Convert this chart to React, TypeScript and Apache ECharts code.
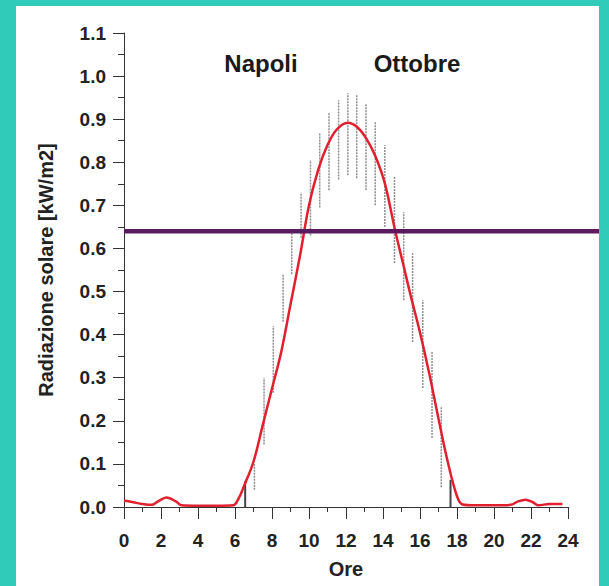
import React, { useEffect, useRef } from "react";
import * as echarts from "echarts";

// Fitted curve (red line): hour of day vs solar radiation [kW/m2]
const curveHours = [
  0, 0.5, 1, 1.5, 1.8, 2.3, 2.8, 3.1, 4, 5, 5.9, 6.2, 6.5, 7, 7.5, 8, 8.5, 9, 9.5, 10,
  10.5, 11, 11.5, 12.1, 12.6, 13.1, 13.6, 14.1, 14.65, 15.1, 15.5, 16.0, 16.5, 17.0, 17.5,
  18.0, 18.3, 19, 20, 20.9, 21.3, 21.7, 22.1, 22.4, 23, 23.7,
];
const curveValues = [
  0.015, 0.011, 0.007, 0.005, 0.012, 0.022, 0.013, 0.004, 0.003, 0.003, 0.004, 0.02, 0.05,
  0.105, 0.19, 0.275, 0.36, 0.47, 0.58, 0.7, 0.783, 0.84, 0.876, 0.892, 0.882, 0.855, 0.813,
  0.751, 0.643, 0.562, 0.49, 0.405, 0.31, 0.205, 0.105, 0.025, 0.006, 0.004, 0.004, 0.005,
  0.013, 0.017, 0.011, 0.004, 0.007, 0.007,
];

// Measured ranges (grey vertical bars)
const barHours = [
  6.55, 7.05, 7.57, 8.07, 8.6, 9.07, 9.57, 10.08, 10.58, 11.08, 11.6, 12.1, 12.58, 13.08,
  13.58, 14.1, 14.62, 15.12, 15.6, 16.15, 16.65, 17.15, 17.65,
];
const barLow = [
  0.0, 0.04, 0.145, 0.265, 0.43, 0.54, 0.625, 0.63, 0.695, 0.735, 0.76, 0.77, 0.763, 0.735,
  0.7, 0.65, 0.566, 0.48, 0.383, 0.276, 0.16, 0.046, 0.0,
];
const barHigh = [
  0.06, 0.1, 0.3, 0.42, 0.54, 0.64, 0.73, 0.805, 0.868, 0.916, 0.944, 0.96, 0.956, 0.937,
  0.893, 0.84, 0.766, 0.684, 0.589, 0.48, 0.36, 0.232, 0.063,
];

const thresholdValue = 0.64;

const xMin = 0;
const xMax = 24;
const xInterval = 2;
const yMin = 0;
const yMax = 1.1;
const yInterval = 0.1;

const titleLeft = "Napoli";
const titleRight = "Ottobre";
const xName = "Ore";
const yName = "Radiazione solare [kW/m2]";

const FONT = "'Liberation Sans', Arial, Helvetica, sans-serif";

export default function App() {
  const ref = useRef<HTMLDivElement>(null);

  useEffect(() => {
    document.body.style.margin = "0";
    const chart = echarts.init(ref.current as HTMLDivElement, null, { renderer: "svg" });
    const axisColor = "#333";
    const labelColor = "#222";

    chart.setOption({
      animation: false,
      grid: { left: 108, top: 27, width: 444, height: 474 },
      xAxis: {
        type: "value",
        min: xMin,
        max: xMax,
        interval: xInterval,
        name: xName,
        nameLocation: "middle",
        nameGap: 52,
        nameTextStyle: { fontFamily: FONT, fontWeight: "bold", fontSize: 20, color: labelColor },
        axisLine: { show: true, lineStyle: { color: axisColor, width: 1 } },
        axisTick: { show: true, length: 12, lineStyle: { color: axisColor, width: 1 } },
        minorTick: { show: true, splitNumber: 2, length: 5, lineStyle: { color: axisColor, width: 1 } },
        axisLabel: {
          fontFamily: FONT,
          fontWeight: "bold",
          fontSize: 19,
          color: labelColor,
          margin: 24,
          showMinLabel: true,
          showMaxLabel: true,
        },
        splitLine: { show: false },
      },
      yAxis: {
        type: "value",
        min: yMin,
        max: yMax,
        interval: yInterval,
        name: yName,
        nameLocation: "middle",
        nameRotate: 90,
        nameGap: 68,
        nameTextStyle: { fontFamily: FONT, fontWeight: "bold", fontSize: 20, color: labelColor },
        axisLine: { show: true, lineStyle: { color: axisColor, width: 1 } },
        axisTick: { show: true, length: 11, lineStyle: { color: axisColor, width: 1 } },
        minorTick: { show: true, splitNumber: 2, length: 6, lineStyle: { color: axisColor, width: 1 } },
        axisLabel: {
          fontFamily: FONT,
          fontWeight: "bold",
          fontSize: 19,
          color: labelColor,
          margin: 18,
          formatter: (v: number) => v.toFixed(1),
        },
        splitLine: { show: false },
      },
      graphic: [
        {
          type: "text",
          x: 245,
          y: 57,
          style: {
            text: titleLeft,
            fontFamily: FONT,
            fontWeight: "bold",
            fontSize: 24,
            fill: "#1a1a1a",
            align: "center",
            verticalAlign: "middle",
          },
        },
        {
          type: "text",
          x: 401,
          y: 57,
          style: {
            text: titleRight,
            fontFamily: FONT,
            fontWeight: "bold",
            fontSize: 24,
            fill: "#1a1a1a",
            align: "center",
            verticalAlign: "middle",
          },
        },
      ],
      series: [
        {
          type: "custom",
          name: "range",
          z: 2,
          encode: { x: 0, y: [1, 2] },
          data: barHours.map((h, i) => [h, barLow[i], barHigh[i]]),
          renderItem: (_params: any, api: any) => {
            const lo = api.coord([api.value(0), api.value(1)]);
            const hi = api.coord([api.value(0), api.value(2)]);
            const toAxis = api.value(1) === 0;
            return {
              type: "line",
              shape: { x1: lo[0], y1: lo[1], x2: hi[0], y2: hi[1] },
              style: toAxis
                ? { stroke: "#444", lineWidth: 2 }
                : { stroke: "#8f8f8f", lineWidth: 1.5, lineDash: [2, 1] },
            };
          },
        },
        {
          type: "line",
          name: "curve",
          z: 3,
          smooth: 0.35,
          symbol: "none",
          data: curveHours.map((h, i) => [h, curveValues[i]]),
          lineStyle: { color: "#e0202e", width: 2.5 },
        },
        {
          type: "custom",
          name: "threshold",
          z: 5,
          clip: false,
          data: [[xMin, thresholdValue]],
          renderItem: (_params: any, api: any) => {
            const p = api.coord([api.value(0), api.value(1)]);
            return {
              type: "line",
              shape: { x1: p[0], y1: p[1], x2: api.getWidth(), y2: p[1] },
              style: { stroke: "#5a1a5e", lineWidth: 4.5 },
            };
          },
        },
      ],
    });

    return () => chart.dispose();
  }, []);

  return (
    <div
      style={{
        position: "fixed",
        left: 0,
        top: 0,
        width: 609,
        height: 586,
        background: "#31CBB9",
      }}
    >
      <div
        style={{
          position: "absolute",
          left: 16,
          top: 6,
          width: 583,
          height: 580,
          background: "#ffffff",
        }}
      >
        <div ref={ref} style={{ width: 583, height: 580 }} />
      </div>
    </div>
  );
}
